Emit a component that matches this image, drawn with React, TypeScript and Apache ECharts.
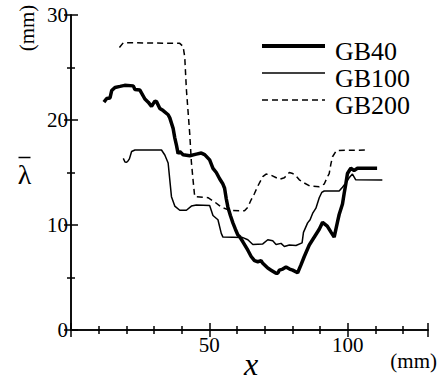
import React, { useEffect, useRef } from "react";
import * as echarts from "echarts";

const seriesNames = ["GB40", "GB100", "GB200"];

const gb40: [number, number][] = [
  [11.9, 21.7], [12.9, 22.05], [14.1, 22.1], [14.7, 22.8], [15.9, 23.1], [17.7, 23.2],
  [19.4, 23.3], [22.5, 23.25], [23.1, 22.9], [24.9, 22.85], [26.7, 22.0], [27.9, 21.7],
  [29.1, 21.3], [30.3, 21.8], [30.9, 21.75], [32.1, 21.1], [33.3, 20.9], [35.1, 20.5],
  [35.7, 20.2], [36.9, 19.2], [37.5, 18.3], [38.1, 17.6], [38.7, 16.8], [39.3, 17.0],
  [40.5, 16.7], [42.9, 16.6], [45.3, 16.75], [47.1, 16.85], [48.3, 16.7], [50.1, 16.2],
  [51.3, 15.4], [52.5, 15.0], [53.7, 14.4], [54.9, 13.9], [55.5, 13.5], [56.1, 12.5],
  [56.7, 11.7], [57.6, 10.9], [58.5, 10.2], [59.4, 9.6], [60.3, 9.05], [60.9, 8.9],
  [62.1, 8.4], [63.9, 7.6], [65.1, 7.0], [66.3, 6.6], [67.5, 6.5], [68.7, 6.6],
  [69.3, 6.35], [71.1, 5.9], [72.3, 5.7], [74.1, 5.4], [74.7, 5.4], [75.3, 5.7],
  [76.5, 5.8], [77.7, 6.0], [79.0, 5.8], [80.1, 5.7], [81.9, 5.45], [83.1, 6.2],
  [84.3, 7.0], [86.1, 8.1], [87.3, 8.6], [88.5, 9.1], [89.7, 9.6], [90.9, 10.25],
  [92.6, 9.9], [94.0, 9.3], [95.1, 8.85], [96.3, 10.3], [96.9, 11.0], [98.1, 12.0],
  [98.7, 13.0], [99.3, 13.9], [99.9, 14.9], [101.1, 15.4], [102.3, 15.2], [103.5, 15.4],
  [106.0, 15.4], [110.6, 15.4],
];

const gb100: [number, number][] = [
  [18.9, 16.35], [19.5, 16.0], [20.1, 15.97], [20.6, 16.1], [21.1, 16.3], [21.9, 17.0],
  [23.1, 17.14], [32.7, 17.14], [33.9, 16.67], [35.1, 15.9], [35.7, 14.3], [36.3, 12.7],
  [37.5, 11.8], [39.3, 11.4], [41.7, 11.4], [43.5, 11.8], [45.3, 11.9], [50.1, 11.85],
  [51.3, 10.9], [53.1, 10.5], [54.3, 9.2], [54.9, 8.85], [62.1, 8.8], [63.9, 8.6],
  [65.7, 8.15], [69.3, 8.2], [71.1, 8.6], [72.9, 8.5], [74.1, 8.15], [75.9, 8.25],
  [77.1, 7.95], [78.9, 8.1], [81.3, 8.05], [83.5, 8.3], [84.0, 9.3], [85.5, 10.2],
  [86.4, 10.5], [87.3, 11.1], [88.5, 11.6], [89.7, 12.6], [90.6, 13.1], [91.5, 13.24],
  [96.9, 13.24], [98.1, 13.6], [99.3, 14.0], [100.5, 14.5], [101.7, 14.85], [102.9, 14.3],
  [112.5, 14.29],
];

const gb200: [number, number][] = [
  [17.5, 26.9], [18.9, 27.36], [39.3, 27.3], [40.5, 27.0], [41.1, 26.0], [41.7, 22.9],
  [42.9, 18.7], [43.5, 16.0], [44.1, 14.3], [44.7, 12.7], [49.5, 12.6], [51.9, 12.2],
  [54.3, 11.7], [57.3, 11.4], [62.7, 11.35], [63.9, 11.7], [65.1, 12.4], [66.3, 13.0],
  [67.5, 13.7], [69.3, 14.6], [70.5, 14.85], [72.3, 14.75], [75.3, 14.35], [77.1, 14.5],
  [78.9, 15.0], [80.1, 14.9], [81.1, 14.75], [82.5, 14.3], [84.3, 14.0], [86.4, 13.7],
  [89.7, 13.65], [91.5, 13.9], [92.7, 14.6], [93.3, 14.9], [93.9, 15.8], [94.5, 16.5],
  [95.9, 17.1], [106.6, 17.14],
];

const xTickLabels = [50, 100];
const yTickLabels = [0, 10, 20, 30];

const FONT = "'Liberation Serif', 'Times New Roman', 'DejaVu Serif', serif";

export default function App() {
  const ref = useRef<HTMLDivElement>(null);
  useEffect(() => {
    if (!ref.current) return;
    const chart = echarts.init(ref.current, undefined, { renderer: "svg" });
    const axisLine = { show: true, lineStyle: { color: "#000", width: 1.5 } };
    const tick = { show: true, inside: true, length: 7, lineStyle: { color: "#000", width: 1.5 } };
    const minorX = { show: true, splitNumber: 5, length: 4, lineStyle: { color: "#000", width: 1.5 } };
    const minorY = { show: true, splitNumber: 2, length: 4, lineStyle: { color: "#000", width: 1.5 } };
    const baseX = { type: "value", min: 0, max: 129, interval: 50, splitLine: { show: false } };
    const baseY = { type: "value", min: 0, max: 30, interval: 10, splitLine: { show: false } };
    const legendRows = [46, 73, 100];
    const legendStyles = [
      { lineWidth: 4, lineDash: null as any },
      { lineWidth: 1.5, lineDash: null as any },
      { lineWidth: 1.5, lineDash: [6, 4] },
    ];
    const graphics: any[] = [];
    seriesNames.forEach((n, i) => {
      graphics.push({
        type: "line",
        shape: { x1: 262, y1: legendRows[i], x2: 325, y2: legendRows[i] },
        style: { stroke: "#000", lineWidth: legendStyles[i].lineWidth, lineDash: legendStyles[i].lineDash },
      });
      graphics.push({
        type: "text",
        x: 335,
        y: legendRows[i] + 5,
        style: {
          text: n,
          fontFamily: FONT,
          fontSize: 26,
          lineHeight: 22,
          fill: "#000",
          textAlign: "left",
          textVerticalAlign: "middle",
        },
      });
    });
    graphics.push(
      {
        type: "text",
        x: 27,
        y: 28,
        rotation: Math.PI / 2,
        style: { text: "(mm)", fontFamily: FONT, fontSize: 21, fill: "#000", textAlign: "center", textVerticalAlign: "middle" },
      },
      {
        type: "text",
        x: 24.5,
        y: 174,
        style: { text: "λ", fontFamily: FONT, fontSize: 28, fill: "#000", textAlign: "center", textVerticalAlign: "middle" },
      },
      {
        type: "line",
        shape: { x1: 18.5, y1: 157.5, x2: 30.5, y2: 157.5 },
        style: { stroke: "#000", lineWidth: 1.5 },
      },
      {
        type: "text",
        x: 251,
        y: 364,
        style: { text: "x", fontFamily: FONT, fontStyle: "italic", fontSize: 32, fill: "#000", textAlign: "center", textVerticalAlign: "middle" },
      },
      {
        type: "text",
        x: 437,
        y: 361,
        style: { text: "(mm)", fontFamily: FONT, fontSize: 21, fill: "#000", textAlign: "right", textVerticalAlign: "middle" },
      }
    );
    chart.setOption({
      animation: false,
      backgroundColor: "#fff",
      textStyle: { fontFamily: FONT },
      grid: { left: 71, top: 15, width: 357, height: 315, containLabel: false },
      xAxis: [
        {
          ...baseX,
          position: "bottom",
          axisLine,
          axisTick: tick,
          minorTick: minorX,
          axisLabel: {
            show: true,
            margin: 4,
            color: "#000",
            fontFamily: FONT,
            fontSize: 21,
            showMinLabel: false,
            showMaxLabel: false,
            formatter: (v: number) => (xTickLabels.includes(v) ? String(v) : ""),
          },
        },
        {
          ...baseX,
          position: "top",
          axisLine,
          axisTick: tick,
          minorTick: minorX,
          axisLabel: { show: false },
        },
      ],
      yAxis: [
        {
          ...baseY,
          position: "left",
          axisLine,
          axisTick: tick,
          minorTick: minorY,
          axisLabel: {
            show: true,
            margin: 3,
            color: "#000",
            fontFamily: FONT,
            fontSize: 21,
            formatter: (v: number) => (yTickLabels.includes(v) ? String(v) : ""),
          },
        },
        {
          ...baseY,
          position: "right",
          axisLine,
          axisTick: tick,
          minorTick: minorY,
          axisLabel: { show: false },
        },
      ],
      series: [
        {
          name: seriesNames[0],
          type: "line",
          data: gb40,
          symbol: "none",
          lineStyle: { color: "#000", width: 3.5 },
          xAxisIndex: 0,
          yAxisIndex: 0,
        },
        {
          name: seriesNames[1],
          type: "line",
          data: gb100,
          symbol: "none",
          lineStyle: { color: "#000", width: 1.5 },
          xAxisIndex: 0,
          yAxisIndex: 0,
        },
        {
          name: seriesNames[2],
          type: "line",
          data: gb200,
          symbol: "none",
          lineStyle: { color: "#000", width: 1.5, type: [6, 4] },
          xAxisIndex: 0,
          yAxisIndex: 0,
        },
      ],
      graphic: graphics,
    });
    return () => chart.dispose();
  }, []);
  return <div ref={ref} style={{ position: "fixed", left: 0, top: 0, width: 441, height: 383 }} />;
}
